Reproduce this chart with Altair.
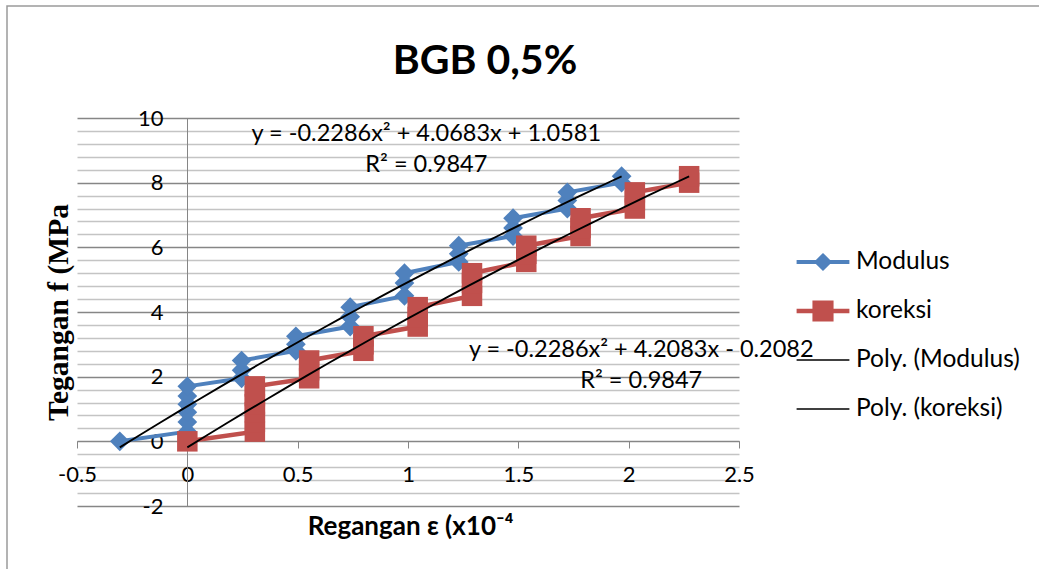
import altair as alt
import pandas as pd

# ---- data ----
mod_x = [-0.306, 0, 0, 0, 0, 0, 0,
         0.246, 0.246, 0.246, 0.492, 0.492, 0.492, 0.738, 0.738, 0.738,
         0.984, 0.984, 0.984, 1.23, 1.23, 1.23, 1.476, 1.476, 1.476,
         1.722, 1.722, 1.722, 1.968, 1.968]
mod_y = [0, 0.3, 0.6, 0.9, 1.15, 1.4, 1.7,
         1.95, 2.2, 2.5, 2.8, 3.0, 3.25, 3.55, 3.85, 4.15,
         4.5, 4.9, 5.2, 5.55, 5.8, 6.05, 6.35, 6.6, 6.9,
         7.2, 7.45, 7.7, 8.0, 8.2]
kor_x = [0, 0.306, 0.306, 0.306, 0.306, 0.306, 0.306,
         0.552, 0.552, 0.552, 0.798, 0.798, 0.798, 1.044, 1.044, 1.044,
         1.29, 1.29, 1.29, 1.536, 1.536, 1.536, 1.782, 1.782, 1.782,
         2.028, 2.028, 2.028, 2.274, 2.274]
kor_y = [0, 0.3, 0.6, 0.9, 1.15, 1.4, 1.7,
         1.95, 2.2, 2.5, 2.8, 3.0, 3.25, 3.55, 3.85, 4.15,
         4.5, 4.9, 5.2, 5.55, 5.8, 6.05, 6.35, 6.6, 6.9,
         7.2, 7.45, 7.7, 8.0, 8.2]

series_names = ["Modulus", "koreksi", "Poly. (Modulus)", "Poly. (koreksi)"]
x_ticks = [-0.5, 0, 0.5, 1, 1.5, 2, 2.5]
y_grid = [round(-2 + 0.4 * i, 1) for i in range(31)]

eq_mod = "y = -0.2286x² + 4.0683x + 1.0581"
eq_kor = "y = -0.2286x² + 4.2083x - 0.2082"
r2_text = "R² = 0.9847"

title_text = "BGB 0,5%"
x_title = "Regangan ε (x10⁻⁴"
y_title = "Tegangan f (MPa"

BLUE = "#4F81BD"
RED = "#C0504D"
FONT = "Lato"

df = pd.concat([
    pd.DataFrame({"x": mod_x, "y": mod_y, "series": "Modulus", "idx": range(len(mod_x))}),
    pd.DataFrame({"x": kor_x, "y": kor_y, "series": "koreksi", "idx": range(len(kor_x))}),
], ignore_index=True)
legend_df = pd.DataFrame({"name": series_names})
one = pd.DataFrame({"k": [0]})

xs = alt.Scale(domain=[-0.5, 2.5], nice=False, zero=False)
ys = alt.Scale(domain=[-2, 10], nice=False, zero=False)

major_test = "abs(datum.value/2 - round(datum.value/2)) < 0.001"

X = alt.X("x:Q", scale=xs, axis=alt.Axis(
    values=x_ticks, tickCount=20, offset=-65, grid=False, domainColor="#868686",
    tickColor="#868686", tickSize=7, labelFont=FONT, labelFontSize=22, labelColor="#000",
    labelPadding=16, labelExpr="'' + datum.value",
    labelFlush=False, labelOverlap=False, title=x_title, titleFont=FONT, titleFontSize=26,
    titleFontWeight="bold", titleColor="#000", titleBaseline="alphabetic", titleY=93,
    titleX=333))
Y = alt.Y("y:Q", scale=ys, axis=alt.Axis(
    values=y_grid, tickCount=60, offset=-110, ticks=False, tickSize=0, domainColor="#868686",
    grid=True, gridColor=alt.condition(major_test, alt.value("#868686"), alt.value("#c4c4c4")),
    gridWidth=1.3,
    labelExpr=f"{major_test} ? '' + datum.value : ''", labelFont=FONT, labelFontSize=22,
    labelColor="#000", labelPadding=24, labelFlush=False, labelOverlap=False,
    title=y_title, titleFont="Liberation Serif", titleFontSize=29.5, titleFontWeight="bold",
    titleColor="#000", titleX=-129, titleY=194, titleBaseline="middle", titleAngle=-90))

base = alt.Chart(df)
ann = alt.Chart(one)

frame = ann.mark_rect(fill="transparent", stroke="#9a9a9a", strokeWidth=1.5).encode(
    x=alt.value(-70), x2=alt.value(990), y=alt.value(-112), y2=alt.value(470))

title_mark = ann.mark_text(font=FONT, fontSize=41, fontWeight="bold", color="#000",
                           align="center", baseline="alphabetic").encode(
    x=alt.value(408), y=alt.value(-44), text=alt.value(title_text))

line_mod = base.transform_filter("datum.series == 'Modulus'").mark_line(
    color=BLUE, strokeWidth=4).encode(x=X, y=Y, order="idx:Q")
line_kor = base.transform_filter("datum.series == 'koreksi'").mark_line(
    color=RED, strokeWidth=4.5).encode(x=X, y=Y, order="idx:Q")
pts_mod = base.transform_filter("datum.series == 'Modulus'").mark_point(
    shape="diamond", filled=True, size=390, color=BLUE, opacity=1).encode(x=X, y=Y)
pts_kor = base.transform_filter("datum.series == 'koreksi'").mark_point(
    shape="square", filled=True, size=420, color=RED, opacity=1).encode(x=X, y=Y)

trend = base.transform_regression("x", "y", groupby=["series"], method="poly", order=2).mark_line(
    color="black", strokeWidth=1.9).encode(x=X, y=Y, detail="series:N")

txt = dict(font=FONT, fontSize=23.5, color="#000", align="center", baseline="middle")
eq1 = ann.mark_text(**txt).encode(x=alt.datum(1.083), y=alt.datum(9.5), text=alt.value(eq_mod))
r21 = ann.mark_text(**txt).encode(x=alt.datum(1.083), y=alt.datum(8.55), text=alt.value(r2_text))
eq2 = ann.mark_text(**txt).encode(x=alt.datum(2.057), y=alt.datum(2.82), text=alt.value(eq_kor))
r22 = ann.mark_text(**txt).encode(x=alt.datum(2.057), y=alt.datum(1.86), text=alt.value(r2_text))

paths = [
    "M-1.1,-0.085H1.1V0.085H-1.1Z M0,-0.38L0.38,0L0,0.38L-0.38,0Z",
    "M-1.1,-0.095H1.1V0.095H-1.1Z M-0.44,-0.44H0.44V0.44H-0.44Z",
    "M-1.1,-0.032H1.1V0.032H-1.1Z",
    "M-1.1,-0.032H1.1V0.032H-1.1Z",
]
leg_cfg = dict(title=None, orient="none", legendX=722, legendY=120,
               symbolOpacity=1, symbolStrokeWidth=0, symbolSize=2304,
               labelFont=FONT, labelFontSize=24.5, labelColor="#000",
               labelOffset=9, rowPadding=13, padding=0, labelLimit=400)
leg = alt.Chart(legend_df).mark_point(filled=True, opacity=0, size=2304).encode(
    x=alt.value(-500), y=alt.value(-500),
    color=alt.Color("name:N", scale=alt.Scale(domain=series_names, range=[BLUE, RED, "black", "black"]),
                    legend=alt.Legend(**leg_cfg)),
    shape=alt.Shape("name:N", scale=alt.Scale(domain=series_names, range=paths),
                    legend=alt.Legend(**leg_cfg)),
)

chart = alt.layer(frame, title_mark, line_mod, line_kor, pts_mod, pts_kor, trend,
                  eq1, r21, eq2, r22, leg).properties(
    width=662, height=388,
    autosize=alt.AutoSizeParams(type="none"),
    padding={"left": 77, "top": 118, "right": 300, "bottom": 63},
    background="white",
).configure_view(stroke=None)

chart.save("out.html", embed_options={"renderer": "svg", "actions": False})
